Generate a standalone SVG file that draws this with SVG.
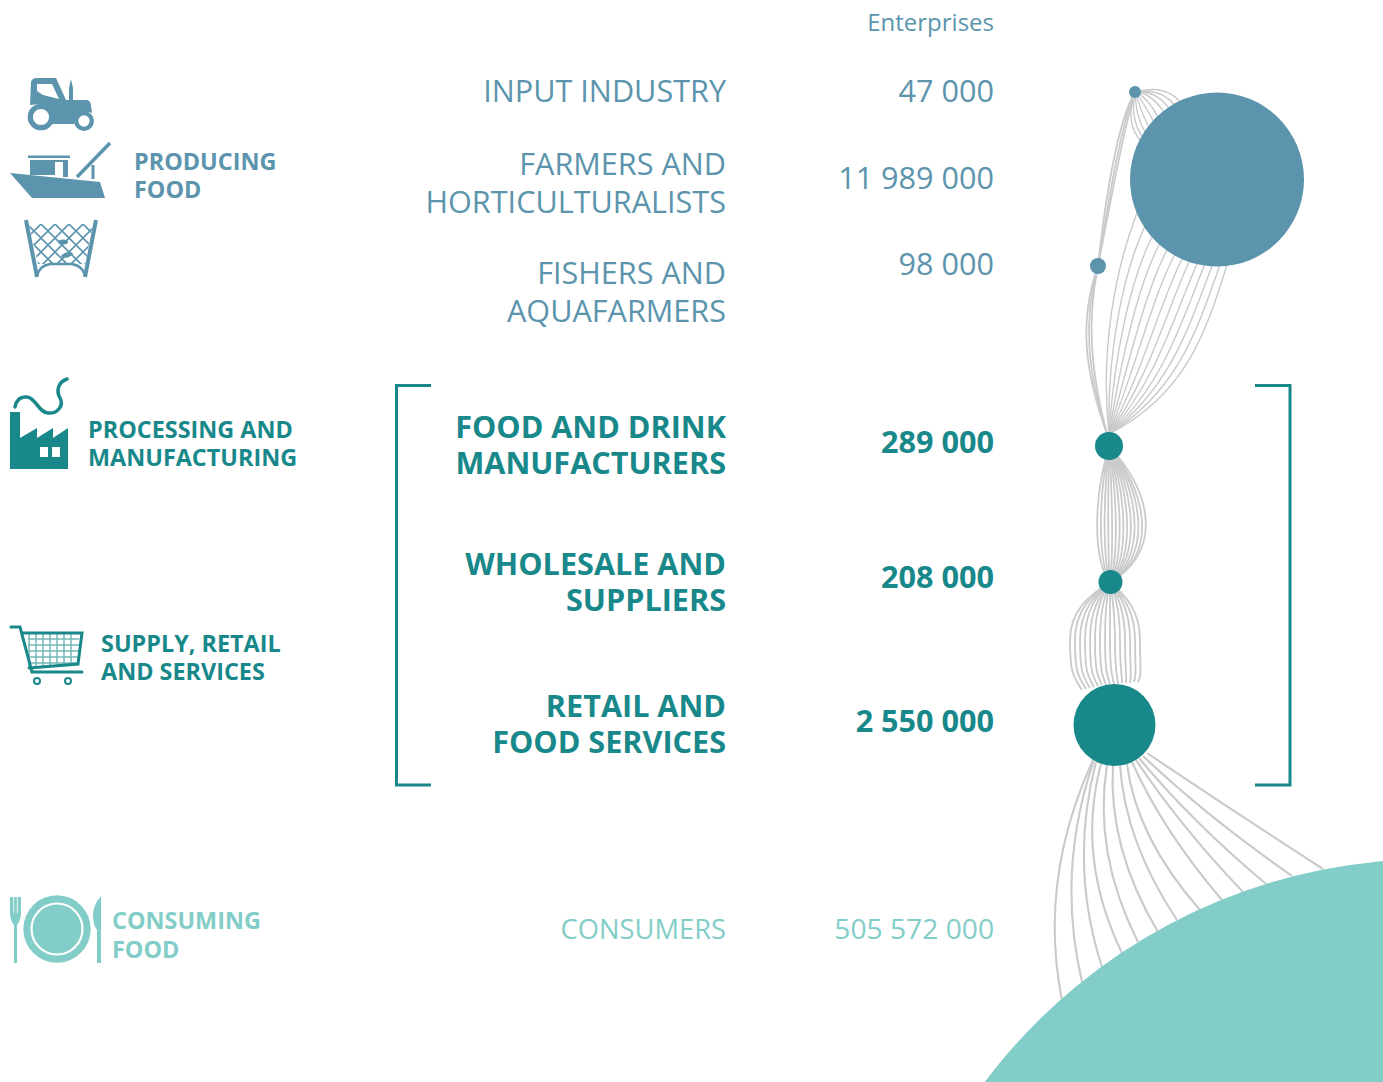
<svg xmlns="http://www.w3.org/2000/svg" width="1383" height="1082" viewBox="0 0 1383 1082">
<style>
text{font-family:"Open Sans","Noto Sans","Liberation Sans",sans-serif}
.r{text-anchor:end}
.blue{fill:#5b94ac}.teal{fill:#18888a}.light{fill:#83cdc8}
.lab{font-size:23.4px;font-weight:700}
.st{font-size:30.600px}
.stb{font-size:30.600px;font-weight:700}
.val{font-size:30.600px}
.valb{font-size:30.600px;font-weight:700}
#connectors path{fill:none;stroke:#c8cacb}
.thin path{stroke-width:1.4}
.mid path{stroke-width:1.800}
.thick path{stroke-width:2.100}
.br{fill:none;stroke:#18888a;stroke-width:3}
</style>
<defs>
<pattern id="net" width="14" height="14" patternUnits="userSpaceOnUse" x="27" y="224"><path d="M0 0L14 14M14 0L0 14" stroke="#5b94ac" stroke-width="1.600" fill="none"/></pattern>
</defs>
<rect width="1383" height="1082" fill="#fff"/>

<g id="connectors">
<g class="thin" id="input-to-farmers">
<path d="M1135 92C1150 88 1172 86 1184 108"/><path d="M1135 92C1148 90 1166 90 1178 110"/><path d="M1135 92C1146 91 1160 93 1172 113"/><path d="M1135 92C1144 92 1155 97 1167 117"/><path d="M1135 92C1142 94 1150 102 1161 122"/><path d="M1135 92C1140 96 1145 106 1156 126"/><path d="M1135 92C1138 98 1140 112 1151 131"/><path d="M1135 92C1136 100 1135 117 1147 135"/><path d="M1135 92C1133 104 1131 122 1144 139"/><path d="M1135 92C1130 108 1127 128 1142 142"/>
</g>
<g class="mid" id="input-to-fishers">
<path d="M1135 92C1118 120 1105 200 1098 266"/><path d="M1135 92C1121 124 1109 198 1098 266"/><path d="M1135 92C1124 128 1112 194 1098 266"/>
</g>
<g class="mid" id="fishers-to-manufacturers">
<path d="M1098 266C1079 320 1084 370 1107 434"/><path d="M1098 266C1083 320 1087 370 1107 434"/><path d="M1098 266C1087 320 1090 370 1107 434"/>
</g>
<g class="thin" id="farmers-to-manufacturers">
<path d="M1137 213C1115 270 1100 350 1109 434"/><path d="M1144.500 227C1122.500 275 1107 354 1109 434"/><path d="M1152 237C1130 281 1114 357 1109 434"/><path d="M1159.500 244C1137.500 286 1121 361 1109 434"/><path d="M1167 250C1145 292 1128 365 1109 434"/><path d="M1174.500 255C1152.500 297 1135 369 1109 434"/><path d="M1182 259C1160 302 1143 372 1109 434"/><path d="M1189.500 261C1167.500 308 1150 376 1109 434"/><path d="M1197 264C1175 313 1157 380 1109 434"/><path d="M1204.500 265C1182.500 319 1164 384 1109 434"/><path d="M1212 266C1190 324 1171 387 1109 434"/><path d="M1219.500 266C1197.500 329 1178 391 1109 434"/><path d="M1227 265C1205 335 1185 395 1109 434"/>
</g>
<g class="mid" id="manufacturers-to-wholesale">
<path d="M1109 446C1093 500 1093 560 1110 582"/><path d="M1109 446C1098 500 1098 560 1110 582"/><path d="M1109 446C1103 500 1103 560 1110 582"/><path d="M1109 446C1108 500 1108 560 1110 582"/><path d="M1109 446C1113 500 1113 560 1110 582"/><path d="M1109 446C1118 500 1118 560 1110 582"/><path d="M1109 446C1123 500 1123 560 1110 582"/><path d="M1109 446C1128 500 1128 560 1110 582"/><path d="M1109 446C1133 500 1133 560 1110 582"/><path d="M1109 446C1138 500 1138 560 1110 582"/><path d="M1109 446C1143 500 1143 560 1110 582"/><path d="M1109 446C1148 500 1148 560 1110 582"/><path d="M1109 446C1153 500 1153 560 1110 582"/><path d="M1109 446C1158 500 1158 555 1110 582"/>
</g>
<g class="mid" id="wholesale-to-retail">
<path d="M1110 582C1090 595 1070 610 1070 640S1072 675 1082 690"/><path d="M1110 582C1092 595 1075 610 1075 640S1077 675 1086 689"/><path d="M1110 582C1095 595 1080 610 1080 640S1082 675 1090 688"/><path d="M1110 582C1097 595 1085 610 1085 640S1087 675 1094 687"/><path d="M1110 582C1100 595 1090 610 1090 640S1092 675 1098 686"/><path d="M1110 582C1102 595 1095 610 1095 640S1097 675 1102 685"/><path d="M1110 582C1105 595 1100 610 1100 640S1102 675 1106 685"/><path d="M1110 582C1107 595 1105 610 1105 640S1107 675 1110 684"/><path d="M1110 582C1110 595 1110 610 1110 640S1112 675 1114 684"/><path d="M1110 582C1112 595 1115 610 1115 640S1117 675 1118 684"/><path d="M1110 582C1115 595 1120 610 1120 640S1122 675 1122 683"/><path d="M1110 582C1117 595 1125 610 1125 640S1127 675 1126 683"/><path d="M1110 582C1120 595 1130 610 1130 640S1132 675 1130 683"/><path d="M1110 582C1122 595 1135 610 1135 640S1137 675 1134 682"/><path d="M1110 582C1125 595 1140 610 1140 640S1142 675 1138 682"/>
</g>
<g class="thick" id="retail-to-consumers">
<path d="M1093 760Q1038 880 1062 1000"/><path d="M1094 760Q1056 871 1082 982"/><path d="M1096 762Q1069 865 1102 967"/><path d="M1101 764Q1076 858 1122 953"/><path d="M1107 765Q1093 853 1138 942"/><path d="M1113 765Q1108 848 1158 932"/><path d="M1120 765Q1125 842 1177 920"/><path d="M1127 764Q1136 837 1200 910"/><path d="M1132 762Q1163 831 1222 900"/><path d="M1136 760Q1180 826 1243 892"/><path d="M1139 758Q1191 821 1266 884"/><path d="M1143 756Q1206 816 1292 876"/><path d="M1147 753Q1221 803 1323 869"/>
</g>
</g>

<g id="header"><text class="r blue" x="994" y="31" font-size="24">Enterprises</text></g>

<g id="producing-food">
<g id="tractor-icon" class="blue">
<path d="M31 82Q32 78 37 78H56L66 100H69V88L71 79L73 88V100H87Q91 101 91 106L92 113Q84 110 78 116L74 124H52L52 115Q48 104 40 104L30 105Z"/>
<path d="M37 84H52L59 99L43 95L37 91Z" fill="#fff"/>
<circle cx="41" cy="117" r="10.700" fill="#fff" stroke="#5b94ac" stroke-width="5.300"/>
<circle cx="84" cy="121" r="7.800" fill="#fff" stroke="#5b94ac" stroke-width="4.300"/>
</g>
<g id="boat-icon" class="blue">
<path d="M10 173L60 178L100 182L105 198H32Z"/>
<rect x="28" y="155.500" width="42" height="2.500"/>
<rect x="30" y="160" width="38" height="2"/><rect x="30" y="160" width="25" height="15"/><rect x="63" y="160" width="5" height="17"/>
<path d="M77 177L110 143" stroke="#5b94ac" stroke-width="3.500"/>
<path d="M93 165V179" stroke="#5b94ac" stroke-width="3"/>
</g>
<g id="net-icon">
<path d="M29 224H93L85 264H38Z" fill="url(#net)"/>
<path d="M26 220L37 277M96 220L85 277" stroke="#5b94ac" stroke-width="4" fill="none"/>
<path d="M37 276Q39 266 50 264H72Q83 266 85 276" stroke="#5b94ac" stroke-width="2.500" fill="none"/>
<ellipse cx="63" cy="242" rx="5" ry="2.500" class="blue"/><ellipse cx="67" cy="255" rx="6" ry="2.500" class="blue" transform="rotate(-15 67 255)"/>
</g>
<text class="lab blue"><tspan x="134" y="170">PRODUCING</tspan><tspan x="134" y="198">FOOD</tspan></text>
</g>

<g id="processing-manufacturing">
<g id="factory-icon">
<path class="teal" d="M10 412H20V438L37 428V438L53 428V438L68 428V469H10Z"/>
<rect x="40" y="447" width="8" height="10" fill="#fff"/><rect x="52" y="447" width="8" height="10" fill="#fff"/>
<path d="M15 407Q17 396 27 397C36 398 38 412 48 413C58 414 64 405 60 398C56 391 58 382 67 379" fill="none" stroke="#18888a" stroke-width="3.500" stroke-linecap="round"/>
</g>
<text class="lab teal"><tspan x="88" y="438">PROCESSING AND</tspan><tspan x="88" y="466">MANUFACTURING</tspan></text>
</g>

<g id="supply-retail-services">
<g id="cart-icon">
<path d="M28 639H79M28 645H79M29 651H79M30 657H78M31 663H78M29 633V668M36 633V668M43 633V667M50 633V667M57 633V666M64 633V666M71 633V666" stroke="#18888a" stroke-width="1.500" stroke-opacity=".6" fill="none"/>
<path d="M11 627H20L32 672H82M22 633H82L78 664L29 668" fill="none" stroke="#18888a" stroke-width="3" stroke-linecap="round"/>
<circle cx="37" cy="681" r="3" fill="#fff" stroke="#18888a" stroke-width="2"/><circle cx="68" cy="681" r="3" fill="#fff" stroke="#18888a" stroke-width="2"/>
</g>
<text class="lab teal"><tspan x="101" y="652">SUPPLY, RETAIL</tspan><tspan x="101" y="680">AND SERVICES</tspan></text>
</g>

<g id="consuming-food">
<g id="plate-icon">
<circle cx="57" cy="929" r="33.700" class="light"/><circle cx="57" cy="929" r="25.500" fill="#83cdc8" stroke="#fff" stroke-width="2.200"/>
<path class="light" d="M10 897H21V915Q20 922 17 925V963H14V925Q11 922 10 915Z"/>
<path d="M13.700 897V913M17.300 897V913" stroke="#fff" stroke-width=".8"/>
<path class="light" d="M101 896V963H97V930Q93 925 93 915Q93 905 101 896Z"/>
</g>
<text class="lab light"><tspan x="112" y="929">CONSUMING</tspan><tspan x="112" y="958">FOOD</tspan></text>
</g>

<g id="input-industry"><text class="st r blue" x="726" y="102">INPUT INDUSTRY</text><text class="val r blue" x="994" y="102">47 000</text><circle cx="1135" cy="92" r="6" class="blue"/></g>
<g id="farmers"><text class="st r blue"><tspan x="726" y="175">FARMERS AND</tspan><tspan x="726" y="213">HORTICULTURALISTS</tspan></text><text class="val r blue" x="994" y="188.500">11 989 000</text><circle cx="1217" cy="179.500" r="87" class="blue"/></g>
<g id="fishers"><text class="st r blue"><tspan x="726" y="284">FISHERS AND</tspan><tspan x="726" y="321.500">AQUAFARMERS</tspan></text><text class="val r blue" x="994" y="275">98 000</text><circle cx="1098" cy="266" r="8" class="blue"/></g>
<g id="manufacturers"><text class="stb r teal"><tspan x="726" y="438">FOOD AND DRINK</tspan><tspan x="726" y="473.500">MANUFACTURERS</tspan></text><text class="valb r teal" x="994" y="453">289 000</text><circle cx="1109" cy="446" r="14" class="teal"/></g>
<g id="wholesale"><text class="stb r teal"><tspan x="726" y="575">WHOLESALE AND</tspan><tspan x="726" y="610.500">SUPPLIERS</tspan></text><text class="valb r teal" x="994" y="588">208 000</text><circle cx="1110.500" cy="582" r="12" class="teal"/></g>
<g id="retail"><text class="stb r teal"><tspan x="726" y="717">RETAIL AND</tspan><tspan x="726" y="753">FOOD SERVICES</tspan></text><text class="valb r teal" x="994" y="732">2 550 000</text><circle cx="1114.500" cy="725" r="41" class="teal"/></g>
<g id="consumers"><text class="r light" x="726" y="939" font-size="27.300">CONSUMERS</text><text class="r light" x="994" y="939" font-size="28.200">505 572 000</text><circle cx="1431" cy="1417" r="558" class="light"/></g>

<g id="brackets">
<path class="br" d="M431 385.500H396.500V785H431"/>
<path class="br" d="M1255 385.500H1290V785H1255"/>
</g>
</svg>
